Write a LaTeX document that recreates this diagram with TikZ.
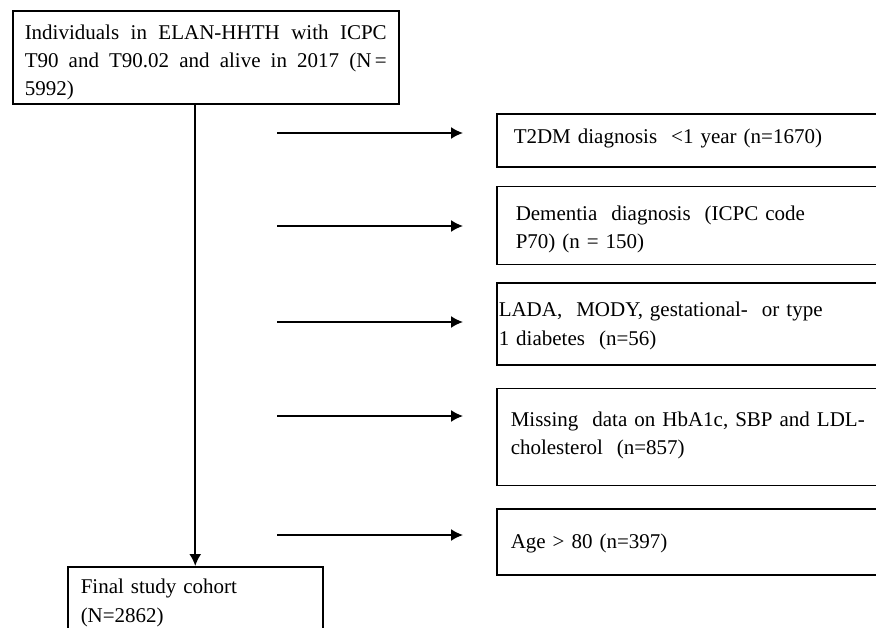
\documentclass[tikz,border=0pt]{standalone}
\usepackage{fontspec}
\setmainfont{Liberation Serif}
\usetikzlibrary{positioning,arrows.meta}

\begin{document}
\begin{tikzpicture}[x=1pt,y=1pt,
    box/.style={draw,line width=1.5pt,inner ysep=0pt,
      font=\fontsize{21}{28}\selectfont},
    exbox/.style={box,inner xsep=14pt,text width=400pt,align=left},
    arr/.style={-{Latex[length=12pt,width=12pt]},line width=1.7pt}]
  \useasboundingbox (0,0) rectangle (876,-627);
  \clip (0,0) rectangle (876,-627);
  % start and end of the cohort
  \node[box,anchor=north west,inner xsep=12pt,text width=362pt,align=justify,
        text height=29pt,text depth=64pt] (elan) at (12,-10)
        {Individuals in ELAN-HHTH with ICPC\linebreak
         T90 and T90.02 and alive in 2017 (N\,=\linebreak 5992)};
  \node[box,anchor=north west,inner xsep=13pt,text width=229pt,align=left,
        text height=27pt,text depth=80pt,
        font=\fontsize{21}{29}\selectfont] (final) at (67,-566)
        {Final\ study\ cohort\\(N=2862)};
  % exclusions
  \node[exbox,anchor=north west,inner xsep=17pt,
        text height=30pt,text depth=23pt] (diag) at (496,-113)
        {T2DM diagnosis\ \ <1 year (n=1670)};
  \node[exbox,below=18pt of diag.south west,anchor=north west,inner xsep=19pt,
        text height=34pt,text depth=44pt] (dem)
        {Dementia\ \ diagnosis\ \ (ICPC code\\P70) (n = 150)};
  \node[exbox,below=17pt of dem.south west,anchor=north west,inner xsep=2pt,
        text height=34pt,text depth=48pt,
        font=\fontsize{21}{29}\selectfont] (lada)
        {LADA,\ \ MODY, gestational-\ \ or type\\1 diabetes\ \ (n=56)};
  \node[exbox,below=22pt of lada.south west,anchor=north west,
        text height=38pt,text depth=59pt] (miss)
        {Missing\ \ data on HbA1c, SBP and LDL-\\cholesterol\ \ (n=857)};
  \node[exbox,below=22pt of miss.south west,anchor=north west,
        text height=40pt,text depth=26pt] (age)
        {Age > 80 (n=397)};
  % arrows
  \draw[arr] (elan.south -| final.north) -- (final.north);
  \foreach \i/\y in {1/133,2/226,3/322,4/416,5/535}{
    \coordinate (s\i) at (277,-\y);
    \coordinate (e\i) at (463,-\y);
    \draw[arr] (s\i) -- (e\i);
  }
\end{tikzpicture}
\end{document}
